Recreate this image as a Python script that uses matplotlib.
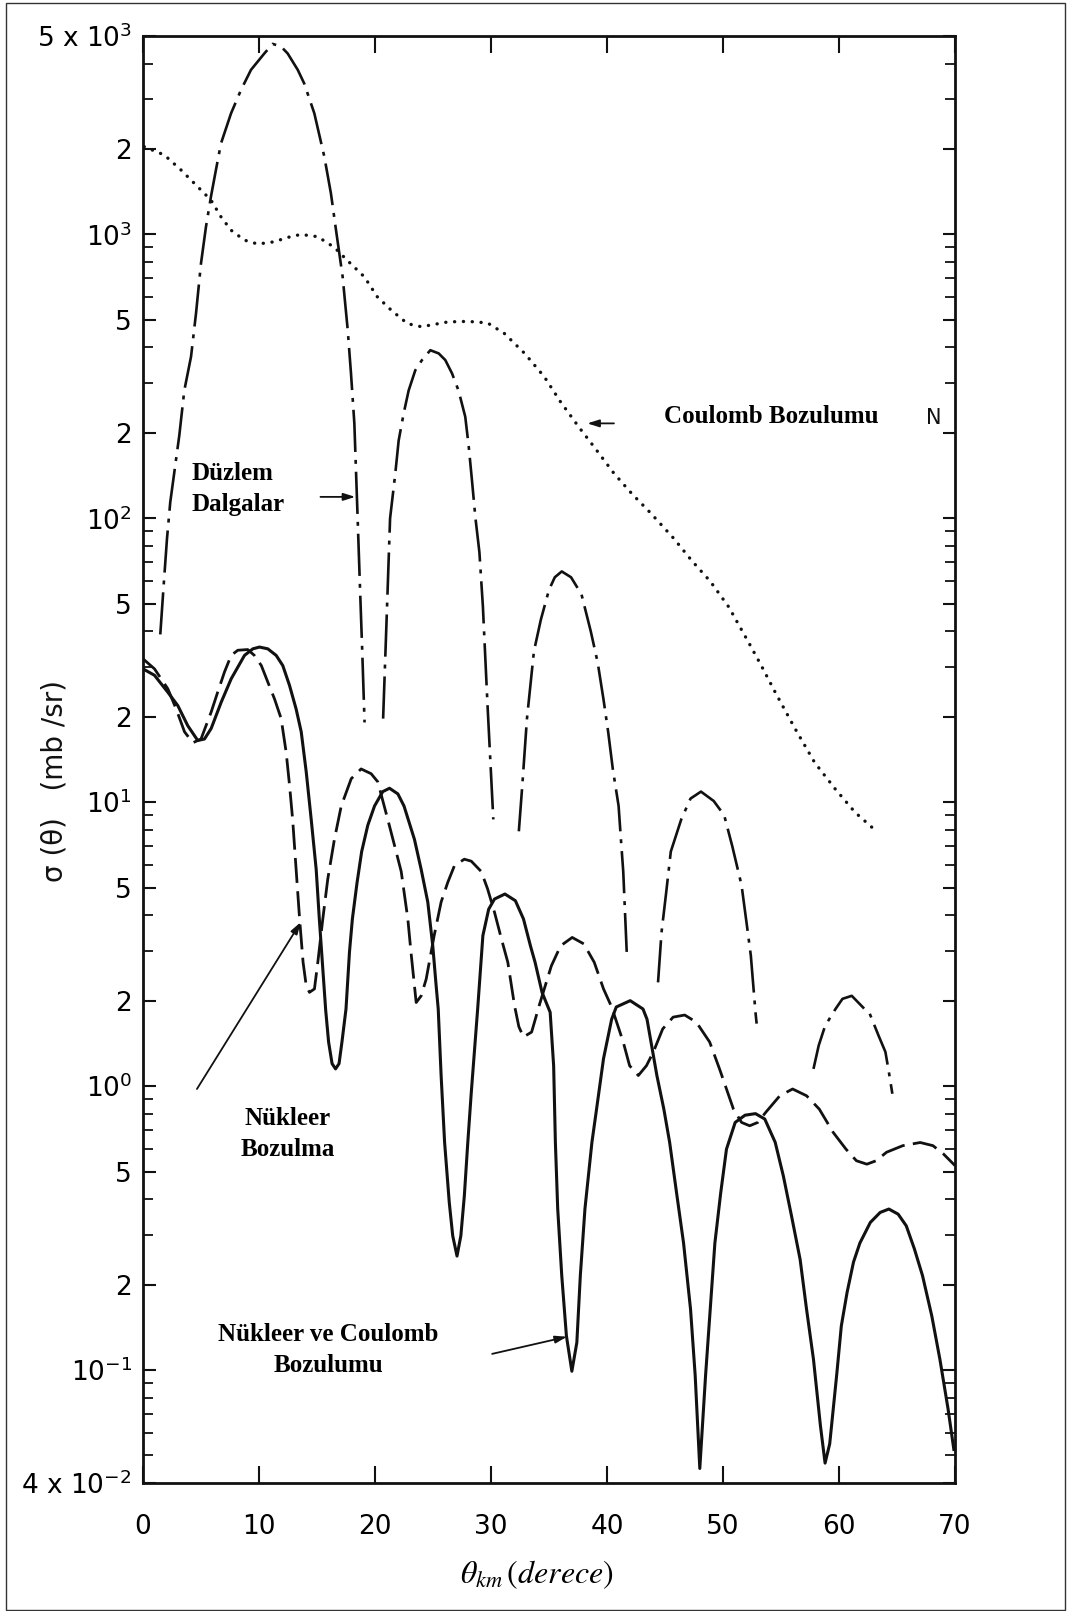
import numpy as np
import matplotlib
matplotlib.use("Agg")
import matplotlib.pyplot as plt
from matplotlib.ticker import FixedLocator, LogLocator, NullFormatter
from matplotlib.patches import Rectangle

plt.rcParams['font.family'] = ['DejaVu Sans']
plt.rcParams['mathtext.fontset'] = 'dejavusans'

# ---- cross sections sigma(theta) in mb/sr vs. c.m. angle (degrees) ----
# Coulomb excitation (dotted)
coul_x = [0.1, 1.84, 3.28, 4.71, 5.86, 6.72, 7.59, 8.74, 9.89, 11.3, 12.47, 13.6, 15.06,
          16.5, 17.6, 19.08, 20.2, 21.4, 22.8, 24.0, 26.3, 28.0, 29.7, 31.15, 32.9, 34.6,
          36.0, 37.56, 39.0, 40.6, 42.15, 43.7, 45.75, 47.3, 48.9, 50.5, 52.2, 53.3, 54.5,
          56.2, 57.9, 59.7, 61.4, 63.3]
coul_y = [2037, 1905, 1686, 1473, 1321, 1154, 1035, 955, 925, 942, 976, 1000, 982,
          900, 811, 709, 603, 541, 485, 473, 492, 494, 488, 448, 381, 315,
          257, 210, 176, 144, 122, 105, 85, 71, 60, 48.7, 36.6, 30.3, 24.4,
          18.2, 13.8, 11.1, 9.2, 7.85]

# Plane waves (dash-dot); NaN separates lobes that fall off the scale
plane_x = [1.49, 1.78, 2.07, 2.35, 3.13, 3.56, 4.14, 4.57, 5.0, 5.43, 5.86, 6.29, 6.72,
           7.59, 8.45, 9.31, 10.46, 11.18, 11.9, 12.47, 13.34, 13.9, 14.77, 15.63, 16.2,
           16.64, 17.21, 17.65, 17.93, 18.22, 18.5, 18.7, 18.9, 19.1, np.nan,
           20.7, 21.0, 21.3, 21.75, 22.04, 22.47, 22.9, 23.47, 24.05, 24.77, 25.49, 26.06,
           26.64, 27.2, 27.78, 28.08, 28.36, 28.65, 29.0, 29.3, 29.7, 30.2, np.nan,
           32.4, 32.7, 33.1, 33.7, 34.3, 35.0, 35.5, 36.1, 36.9, 37.8, 38.6, 39.2, 39.7,
           40.1, 40.5, 41.0, 41.2, 41.4, 41.7, np.nan,
           44.4, 44.7, 45.1, 45.5, 46.4, 47.2, 48.1, 49.2, 50.1, 50.8, 51.6, 52.1, 52.4,
           52.8, 52.9, np.nan,
           57.8, 58.25, 58.8, 59.7, 60.3, 61.1, 62.2, 62.6, 63.4, 64.0, 64.3, 64.6]
plane_y = [39, 58, 85, 114, 196, 282, 371, 527, 791, 1065, 1360, 1690, 2090,
           2670, 3230, 3800, 4340, 4690, 4590, 4340, 3800, 3400, 2670, 1880, 1395,
           1035, 710, 460, 324, 216, 101, 58, 34, 19.1, np.nan,
           19.7, 44, 100, 144, 188, 234, 282, 332, 361, 391, 381, 361,
           324, 282, 228, 179, 136, 101, 76, 49, 22, 8.7, np.nan,
           7.9, 11.5, 19.7, 34, 44, 56, 62, 65, 62, 54, 40, 31, 23,
           17.7, 13.1, 9.7, 7.4, 5.7, 2.97, np.nan,
           2.32, 3.48, 4.8, 6.7, 8.7, 10.3, 10.9, 10.1, 9.0, 7.0, 5.1, 3.58, 2.88,
           1.82, 1.66, np.nan,
           1.15, 1.39, 1.63, 1.87, 2.03, 2.08, 1.87, 1.82, 1.51, 1.32, 1.12, 0.94]

# Nuclear excitation (dashed)
nuc_x = [0, 0.99, 2.14, 2.86, 3.58, 4.3, 5.0, 5.88, 6.45, 7.03, 7.6, 8.17, 9.03, 9.6,
         10.2, 10.76, 11.34, 11.91, 12.34, 12.63, 12.9, 13.2, 13.5, 13.8, 14.07, 14.35,
         14.78, 15.07, 15.5, 15.93, 16.5, 17.09, 17.95, 18.8, 19.67, 20.24, 21.1, 21.7,
         22.26, 22.83, 23.1, 23.55, 23.98, 24.41, 25.1, 25.7, 26.28, 26.85, 27.7, 28.3,
         29.16, 29.7, 30.3, 30.9, 31.45, 32.03, 32.4, 32.8, 33.5, 34.2, 35.2, 36.0,
         37.0, 38.0, 38.9, 39.7, 40.4, 41.4, 41.95, 42.7, 43.4, 44.0, 44.8, 45.7, 46.7,
         47.7, 48.85, 49.7, 50.9, 51.6, 52.3, 53.0, 53.7, 54.9, 56.0, 57.2, 58.3, 59.5,
         60.6, 61.5, 62.4, 63.2, 64.1, 65.5, 67.0, 68.1, 69.0, 70.0]
nuc_y = [32, 29.5, 25.1, 21.3, 17.7, 16.2, 16.7, 20.8, 24.5, 28.8, 32.9, 34.3, 34.5, 32.9,
         30.3, 26.5, 23.1, 19.7, 15, 11.5, 8.7, 5.8, 3.88, 2.73, 2.26, 2.14,
         2.2, 2.73, 3.88, 5.37, 7.4, 9.7, 12.1, 13.1, 12.6, 11.8, 8.7, 7.0,
         5.7, 3.88, 2.97, 1.97, 2.08, 2.38, 3.39, 4.45, 5.23, 5.98, 6.3, 6.2,
         5.7, 4.96, 4.1, 3.3, 2.73, 1.92, 1.62, 1.49, 1.55, 1.95, 2.65, 3.12,
         3.34, 3.17, 2.73, 2.2, 1.9, 1.43, 1.18, 1.09, 1.18, 1.32, 1.59, 1.75, 1.78,
         1.68, 1.43, 1.15, 0.83, 0.745, 0.725, 0.745, 0.81, 0.925, 0.977, 0.925, 0.83, 0.687,
         0.6, 0.546, 0.531, 0.546, 0.585, 0.617, 0.633, 0.617, 0.577, 0.525]

# Nuclear + Coulomb excitation (solid)
nc_x = [0, 0.99, 2.14, 3.0, 3.86, 4.72, 5.3, 5.88, 6.74, 7.6, 8.75, 9.47, 10.04, 10.76,
        11.48, 12.05, 12.63, 13.2, 13.64, 14.07, 14.5, 14.93, 15.2, 15.5, 15.75, 16.0,
        16.3, 16.6, 16.9, 17.15, 17.5, 17.8, 18.05, 18.45, 18.85, 19.38, 19.96, 20.67,
        21.25, 21.97, 22.5, 23.4, 23.98, 24.55, 24.98, 25.27, 25.45, 25.7, 26.0, 26.4,
        26.7, 27.07, 27.4, 27.7, 28.0, 28.3, 28.85, 29.3, 29.8, 30.3, 31.2, 32.1, 32.8,
        33.4, 33.8, 34.4, 35.1, 35.4, 35.55, 35.75, 36.1, 36.5, 36.97, 37.4, 37.7, 38.1,
        38.7, 39.1, 39.7, 40.4, 40.8, 42.0, 43.1, 43.45, 44.3, 44.9, 45.4, 46.0, 46.6,
        47.2, 47.6, 48.0, 48.5, 48.9, 49.3, 49.8, 50.3, 51.05, 51.9, 52.8, 53.6, 54.5,
        55.2, 55.9, 56.65, 57.2, 57.8, 58.4, 58.8, 59.2, 59.8, 60.2, 60.7, 61.25, 61.8,
        62.7, 63.55, 64.3, 65.1, 65.8, 66.5, 67.2, 68.0, 68.7, 69.4, 69.9]
nc_y = [29.5, 28, 24.4, 21.9, 18.6, 16.5, 16.7, 18.2, 22.5, 27.2, 32.9, 34.7, 35.2, 34.7,
        32.9, 30.3, 25.8, 21.3, 17.7, 12.8, 8.7, 5.8, 3.88, 2.59, 1.85, 1.43,
        1.2, 1.15, 1.2, 1.43, 1.87, 2.97, 3.88, 5.2, 6.7, 8.3, 9.7, 10.9,
        11.2, 10.7, 9.7, 7.4, 5.8, 4.45, 3.12, 2.26, 1.87, 1.09, 0.634, 0.39,
        0.297, 0.252, 0.297, 0.41, 0.634, 0.95, 1.87, 3.39, 4.2, 4.56, 4.75, 4.5, 3.88,
        3.12, 2.73, 2.14, 1.82, 1.18, 0.634, 0.37, 0.215, 0.132, 0.099, 0.125, 0.215, 0.37,
        0.634, 0.83, 1.25, 1.72, 1.9, 2.0, 1.87, 1.72, 1.09, 0.83, 0.634, 0.42, 0.28,
        0.164, 0.096, 0.045, 0.096, 0.164, 0.28, 0.42, 0.6, 0.745, 0.79, 0.8, 0.766, 0.634,
        0.483, 0.35, 0.245, 0.164, 0.109, 0.0636, 0.047, 0.055, 0.096, 0.143, 0.188, 0.24, 0.28,
        0.331, 0.359, 0.369, 0.354, 0.322, 0.267, 0.215, 0.155, 0.109, 0.073, 0.0525]

# axis ticks
x_ticks = [0, 10, 20, 30, 40, 50, 60, 70]
x_labels = ['0', '10', '20', '30', '40', '50', '60', '70']
y_ticks = [4e-2, 1e-1, 2e-1, 5e-1, 1, 2, 5, 10, 20, 50, 100, 200, 500, 1000, 2000, 5000]
y_labels = ['4 x $10^{-2}$', '$10^{-1}$', '2', '5', '$10^{0}$', '2', '5', '$10^{1}$',
            '2', '5', '$10^{2}$', '2', '5', '$10^{3}$', '2', '5 x $10^{3}$']

W, H = 1070, 1611
fig = plt.figure(figsize=(W / 100, H / 100), dpi=100)
L, R, T, B = 143, 955, 36, 1483
ax = fig.add_axes([L / W, 1 - B / H, (R - L) / W, (B - T) / H])

ink = '#111111'
ax.plot(coul_x, coul_y, color=ink, lw=2.4, linestyle=(0, (0.05, 2.6)),
        dash_capstyle='round')
ax.plot(plane_x, plane_y, color=ink, lw=1.9, dashes=(16, 3, 1.5, 3))
ax.plot(nuc_x, nuc_y, color=ink, lw=2.0, dashes=(9, 3))
ax.plot(nc_x, nc_y, color=ink, lw=2.2, solid_joinstyle='round')

ax.set_xlim(0, 70)
ax.set_yscale('log')
ax.set_ylim(4e-2, 5e3)

ax.xaxis.set_major_locator(FixedLocator(x_ticks))
ax.set_xticklabels(x_labels)
ax.yaxis.set_major_locator(FixedLocator(y_ticks))
ax.set_yticklabels(y_labels)
ax.yaxis.set_minor_locator(LogLocator(base=10, subs=np.arange(2, 10)))
ax.yaxis.set_minor_formatter(NullFormatter())

for s in ax.spines.values():
    s.set_linewidth(2.0)
    s.set_color(ink)
ax.tick_params(which='both', direction='in', top=True, right=True, color=ink)
ax.tick_params(axis='x', which='major', length=12, width=1.5, labelsize=19, pad=22)
ax.tick_params(axis='y', which='major', length=9, width=1.5, labelsize=19, pad=8)
ax.tick_params(axis='y', which='minor', length=7, width=1.3)

# axis titles
fig.text(55 / W, 1 - 781 / H, 'σ (θ)   (mb /sr)', rotation=90, ha='center',
         va='center', fontsize=20, color=ink)
fig.text(537 / W, 1 - 1575 / H, r'$\theta_{km}\,\left(derece\right)$', ha='center',
         va='center', fontsize=23, math_fontfamily='stix', color='black')

# curve annotations
lab = dict(family='Liberation Serif', fontweight='bold', fontsize=18, color='black')
arr = dict(arrowstyle='-|>,head_length=0.7,head_width=0.22', lw=1.3, color=ink,
           shrinkA=0, shrinkB=0)

ax.text(4.2, 127, 'Düzlem\nDalgalar', ha='left', va='center', linespacing=1.45, **lab)
ax.annotate('', xy=(18.3, 119), xytext=(15.3, 119), arrowprops=arr)

ax.text(54.2, 228, 'Coulomb Bozulumu', ha='center', va='center', **lab)
ax.annotate('', xy=(38.3, 216), xytext=(40.6, 216), arrowprops=arr)
ax.text(68.2, 225, 'N', ha='center', va='center', fontsize=15, color=ink)

ax.text(12.5, 0.678, 'Nükleer\nBozulma', ha='center', va='center', linespacing=1.45,
        **lab)
ax.annotate('', xy=(13.6, 3.78), xytext=(4.65, 0.977), arrowprops=arr)

ax.text(16.0, 0.118, 'Nükleer ve Coulomb\nBozulumu', ha='center', va='center',
        linespacing=1.45, **lab)
ax.annotate('', xy=(36.55, 0.131), xytext=(30.1, 0.114), arrowprops=arr)

# frame around the whole figure
fig.patches.append(Rectangle((6 / W, 1 / H), (1065 - 6) / W, (1609 - 2) / H,
                             transform=fig.transFigure, fill=False, lw=1.0,
                             edgecolor='#333333'))

fig.savefig('out.png', dpi=100)
